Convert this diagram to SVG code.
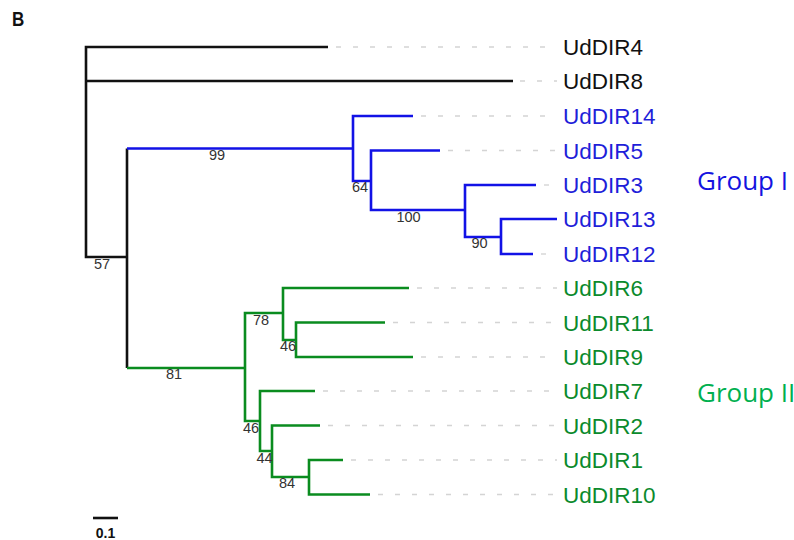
<svg xmlns="http://www.w3.org/2000/svg" width="794" height="540" viewBox="0 0 794 540">
<style>
.br{fill:none;stroke-width:2.6;stroke-linejoin:miter;stroke-linecap:butt}
.k{stroke:#111}
.b{stroke:#1212e6}
.g{stroke:#0a8c1f}
.d{stroke:#d4d4d4;stroke-width:1.4;stroke-dasharray:5 12;fill:none}
.lab{font-family:"Liberation Sans",Arial,sans-serif;font-size:22.5px}
.lk{fill:#111}
.lb{fill:#1f1fd9}
.lg{fill:#0b8a2c}
.bs{font-family:"Liberation Sans",Arial,sans-serif;font-size:14.5px;fill:#333;text-anchor:middle}
.grp{font-family:"Open Sans","Liberation Sans",sans-serif;font-size:26px}
</style>
<rect width="794" height="540" fill="#fff"/>
<text x="12" y="26" font-family="Liberation Sans,Arial,sans-serif" font-weight="bold" font-size="20" fill="#111" transform="translate(12 0) scale(0.85 1) translate(-12 0)">B</text>

<g id="connectors">
  <polyline class="br k" points="328,47 86,47 86,257 127,257"/>
  <line class="br k" x1="86" y1="81" x2="513" y2="81"/>
  <line class="br k" x1="127" y1="148.5" x2="127" y2="368"/>
  <line class="br b" x1="127" y1="148.5" x2="353" y2="148.5"/>
  <polyline class="br b" points="413,116 353,116 353,181 371,181"/>
  <polyline class="br b" points="440,150.5 371,150.5 371,210 465,210"/>
  <polyline class="br b" points="536,185 465,185 465,237 501,237"/>
  <polyline class="br b" points="557,219 501,219 501,254 533,254"/>
  <line class="br g" x1="127" y1="368" x2="245" y2="368"/>
  <polyline class="br g" points="283,313 245,313 245,421 260,421"/>
  <polyline class="br g" points="409,288 283,288 283,340 296,340"/>
  <polyline class="br g" points="385,322.5 296,322.5 296,357 413,357"/>
  <polyline class="br g" points="315,391 260,391 260,451 272,451"/>
  <polyline class="br g" points="320,425.5 272,425.5 272,477 309,477"/>
  <polyline class="br g" points="343,460 309,460 309,494.5 370,494.5"/>
  <line class="d" x1="336" y1="47" x2="557" y2="47"/>
  <line class="d" x1="520" y1="81" x2="557" y2="81"/>
  <line class="d" x1="421" y1="116" x2="557" y2="116"/>
  <line class="d" x1="448" y1="150.5" x2="557" y2="150.5"/>
  <line class="d" x1="544" y1="185" x2="557" y2="185"/>
  <line class="d" x1="541" y1="254" x2="557" y2="254"/>
  <line class="d" x1="417" y1="288" x2="557" y2="288"/>
  <line class="d" x1="393" y1="322.5" x2="557" y2="322.5"/>
  <line class="d" x1="421" y1="357" x2="557" y2="357"/>
  <line class="d" x1="323" y1="391" x2="557" y2="391"/>
  <line class="d" x1="328" y1="425.5" x2="557" y2="425.5"/>
  <line class="d" x1="351" y1="460" x2="557" y2="460"/>
  <line class="d" x1="378" y1="494.5" x2="557" y2="494.5"/>
  <text class="bs" x="102" y="269">57</text>
  <text class="bs" x="217" y="160">99</text>
  <text class="bs" x="360" y="192">64</text>
  <text class="bs" x="408.5" y="222">100</text>
  <text class="bs" x="479.5" y="247.5">90</text>
  <text class="bs" x="174" y="379">81</text>
  <text class="bs" x="261" y="325">78</text>
  <text class="bs" x="288" y="351">46</text>
  <text class="bs" x="251" y="432.5">46</text>
  <text class="bs" x="264.5" y="462.5">44</text>
  <text class="bs" x="287" y="488">84</text>
</g>

<g id="leaf-UdDIR4"><text class="lab lk" x="563" y="55">UdDIR4</text></g>
<g id="leaf-UdDIR8"><text class="lab lk" x="563" y="89">UdDIR8</text></g>
<g id="leaf-UdDIR14"><text class="lab lb" x="563" y="124">UdDIR14</text></g>
<g id="leaf-UdDIR5"><text class="lab lb" x="563" y="158.5">UdDIR5</text></g>
<g id="leaf-UdDIR3"><text class="lab lb" x="563" y="193">UdDIR3</text></g>
<g id="leaf-UdDIR13"><text class="lab lb" x="563" y="227">UdDIR13</text></g>
<g id="leaf-UdDIR12"><text class="lab lb" x="563" y="262">UdDIR12</text></g>
<g id="leaf-UdDIR6"><text class="lab lg" x="563" y="296">UdDIR6</text></g>
<g id="leaf-UdDIR11"><text class="lab lg" x="563" y="330.5">UdDIR11</text></g>
<g id="leaf-UdDIR9"><text class="lab lg" x="563" y="365">UdDIR9</text></g>
<g id="leaf-UdDIR7"><text class="lab lg" x="563" y="399">UdDIR7</text></g>
<g id="leaf-UdDIR2"><text class="lab lg" x="563" y="433.5">UdDIR2</text></g>
<g id="leaf-UdDIR1"><text class="lab lg" x="563" y="468">UdDIR1</text></g>
<g id="leaf-UdDIR10"><text class="lab lg" x="563" y="502.5">UdDIR10</text></g>

<g id="group-I"><text class="grp" x="697" y="190" fill="#1414e0">Group I</text></g>
<g id="group-II"><text class="grp" x="697" y="402" fill="#00b050">Group II</text></g>

<g id="scale">
  <line x1="93" y1="518" x2="118" y2="518" stroke="#111" stroke-width="2.6"/>
  <text x="105.5" y="538" font-family="Liberation Sans,Arial,sans-serif" font-weight="bold" font-size="14" fill="#111" text-anchor="middle">0.1</text>
</g>
</svg>
